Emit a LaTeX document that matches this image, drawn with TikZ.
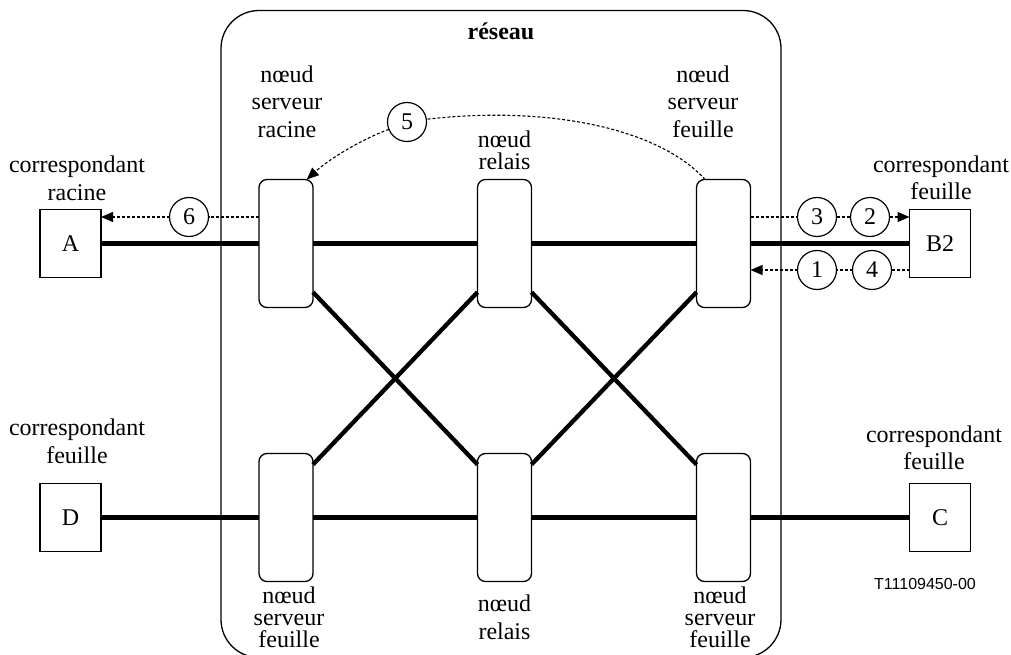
\documentclass[tikz,border=0pt]{standalone}
\usepackage{fontspec}
\setmainfont{Liberation Serif}
\newfontfamily\refsans{Liberation Sans}
\usetikzlibrary{arrows.meta}

\begin{document}
\begin{tikzpicture}[x=1pt,y=-1pt,
  every node/.style={inner sep=0pt, outer sep=0pt},
  lbl/.style={align=center, anchor=north},
  router/.style={draw, line width=1.3pt, rounded corners=8pt,
    minimum width=54pt, minimum height=128pt},
  endbox/.style={draw, line width=1.3pt, minimum width=61pt, minimum height=68pt,
    font=\fontsize{24}{28}\selectfont},
  num/.style={draw, circle, line width=1.2pt, minimum size=39pt,
    font=\fontsize{24}{28}\selectfont},
  link/.style={line width=4.3pt},
  msg/.style={line width=1.1pt, dash pattern=on 3pt off 2pt},
  tip/.style={-{Triangle[length=12pt,width=10pt]}},
]
\useasboundingbox (0,0) rectangle (1011,655);

% network cloud (its lower edge runs just below the page)
\node[draw, line width=1.3pt, rounded corners=38pt,
  minimum width=560pt, minimum height=647pt] (net) at (501,334) {};
\node[anchor=base, font=\fontsize{24}{28}\selectfont\bfseries] (title) at (501,40) {réseau};

% network nodes
\node[router] (srr)  at (286,243.5) {};
\node[router] (relT) at (504.5,243.5) {};
\node[router] (srf)  at (723.5,243.5) {};
\node[router] (sfl)  at (286,517.5) {};
\node[router] (relB) at (504.5,517.5) {};
\node[router] (sfr)  at (723.5,517.5) {};

% correspondents
\node[endbox] (A)  at (70.5,243.5) {A};
\node[endbox] (B2) at (940,243.5) {B2};
\node[endbox] (D)  at (70.5,517.5) {D};
\node[endbox] (C)  at (940,517.5) {C};

% labels
\node[lbl, font=\fontsize{24}{27.5}\selectfont] (lsrr) at (287,65.6) {nœud\\serveur\\racine};
\node[lbl, font=\fontsize{24}{22}\selectfont] (lrelT) at (504.5,130.6) {nœud\\relais};
\node[lbl, font=\fontsize{24}{27.5}\selectfont] (lsrf) at (703,65.6) {nœud\\serveur\\feuille};
\node[lbl, font=\fontsize{24}{22}\selectfont] (lsfl) at (289,586.6) {nœud\\serveur\\feuille};
\node[lbl, font=\fontsize{24}{28}\selectfont] (lrelB) at (504.5,594.6) {nœud\\relais};
\node[lbl, font=\fontsize{24}{22}\selectfont] (lsfr) at (720,586.6) {nœud\\serveur\\feuille};
\node[lbl, font=\fontsize{24}{28}\selectfont] (lA) at (77,155.6) {correspondant\\racine};
\node[lbl, font=\fontsize{24}{27}\selectfont] (lB2) at (941,155.6) {correspondant\\feuille};
\node[lbl, font=\fontsize{24}{28}\selectfont] (lD) at (77,418.6) {correspondant\\feuille};
\node[lbl, font=\fontsize{24}{27}\selectfont] (lC) at (934,425.6) {correspondant\\feuille};
\node[anchor=base, font=\refsans\fontsize{16}{19}\selectfont] (ref) at (925,589) {T11109450-00};

% physical links
\draw[link] (A) -- (srr);
\draw[link] (srr) -- (relT);
\draw[link] (relT) -- (srf);
\draw[link] (srf) -- (B2);
\draw[link] (D) -- (sfl);
\draw[link] (sfl) -- (relB);
\draw[link] (relB) -- (sfr);
\draw[link] (sfr) -- (C);
\draw[link] (srr.-61) -- (relB.117);
\draw[link] (relT.-119) -- (sfl.63);
\draw[link] (relT.-61) -- (sfr.117);
\draw[link] (srf.-119) -- (relB.63);

% numbered message steps
\node[num] (c6) at (189,217) {6};
\node[num] (c3) at (817,217) {3};
\node[num] (c2) at (870,217) {2};
\node[num] (c1) at (817,270) {1};
\node[num] (c4) at (872,270) {4};
\node[num] (c5) at (407,122) {5};

\draw[msg] (srr.west |- c6) -- (c6);
\draw[msg, tip] (c6) -- (A.east |- c6);

\draw[msg] (srf.east |- c3) -- (c3);
\draw[msg] (c3) -- (c2);
\draw[msg, tip] (c2) -- (B2.west |- c2);

\draw[msg] (B2.west |- c4) -- (c4);
\draw[msg] (c4) -- (c1);
\draw[msg, tip] (c1) -- (srf.east |- c1);

\draw[msg] (srf.106) .. controls (655,125) and (540,106) .. (c5.8);
\draw[msg, tip] (c5.202) .. controls (360,140) and (328,160) .. (srr.72);

\end{tikzpicture}
\end{document}
